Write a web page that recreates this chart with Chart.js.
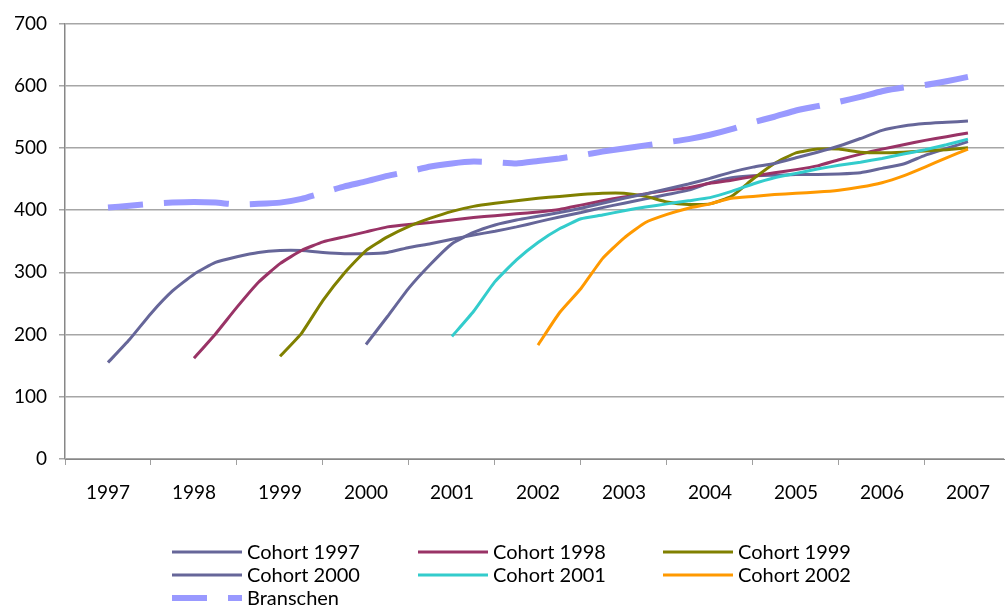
<!DOCTYPE html>
<html>
<head>
<meta charset="utf-8">
<title>Cohorts vs Branschen</title>
<script src="https://cdn.jsdelivr.net/npm/chart.js@4.4.1/dist/chart.umd.min.js"></script>
<style>
  html, body { margin: 0; padding: 0; background: #ffffff; overflow: hidden; }
  canvas { display: block; }
</style>
</head>
<body>
<canvas id="chart" width="1006" height="608"></canvas>
<script>
// Quarterly sampling points, 1997 Q1 .. 2007 Q1
const quarters = [
  1997.00, 1997.25, 1997.50, 1997.75,
  1998.00, 1998.25, 1998.50, 1998.75,
  1999.00, 1999.25, 1999.50, 1999.75,
  2000.00, 2000.25, 2000.50, 2000.75,
  2001.00, 2001.25, 2001.50, 2001.75,
  2002.00, 2002.25, 2002.50, 2002.75,
  2003.00, 2003.25, 2003.50, 2003.75,
  2004.00, 2004.25, 2004.50, 2004.75,
  2005.00, 2005.25, 2005.50, 2005.75,
  2006.00, 2006.25, 2006.50, 2006.75,
  2007.00
];

// Year tick labels
const yearTicks = [1997, 1998, 1999, 2000, 2001, 2002, 2003, 2004, 2005, 2006, 2007];

// Series values (null = cohort not yet started)
const cohort1997 = [155,192,234,270,297,316,325,332,335,335,332,330,330,332,340,346,353,360,366,373,381,389,396,404,411,418,425,432,444,452,455,456,457,457,458,460,467,474,488,499,510];
const cohort1998 = [null,null,null,null,162,201,244,284,314,335,349,357,365,373,377,380,384,388,391,394,397,401,408,415,421,426,432,436,443,448,454,460,465,471,481,490,498,505,512,518,524];
const cohort1999 = [null,null,null,null,null,null,null,null,165,202,255,299,335,357,374,387,398,406,411,415,419,422,425,427,427,422,413,409,410,422,450,475,492,498,498,493,492,493,495,497,500];
const cohort2000 = [null,null,null,null,null,null,null,null,null,null,null,null,184,229,275,313,346,364,376,384,390,396,403,411,419,426,434,442,451,461,469,475,484,493,503,515,528,535,539,541,543];
const cohort2001 = [null,null,null,null,null,null,null,null,null,null,null,null,null,null,null,null,197,237,285,320,348,370,386,392,399,405,410,415,420,430,442,452,459,466,472,477,483,490,497,505,514];
const cohort2002 = [null,null,null,null,null,null,null,null,null,null,null,null,null,null,null,null,null,null,null,null,183,235,274,322,355,380,393,403,410,419,422,425,427,429,432,437,444,455,469,484,498];
const branschen  = [404,407,410,412,413,412,409,410,412,418,428,438,446,455,462,470,475,478,477,475,479,483,488,494,499,504,509,514,521,530,541,550,560,567,574,582,591,597,601,607,614];

const seriesNames = ['Cohort 1997', 'Cohort 1998', 'Cohort 1999', 'Cohort 2000', 'Cohort 2001', 'Cohort 2002', 'Branschen'];
const seriesValues = [cohort1997, cohort1998, cohort1999, cohort2000, cohort2001, cohort2002, branschen];
const seriesColors = ['#666699', '#993366', '#808000', '#666699', '#33CCCC', '#FF9900', '#9999FF'];

const toPoints = vals => quarters.map((q, i) => ({ x: q, y: vals[i] })).filter(p => p.y !== null);

const datasets = seriesNames.map((name, i) => {
  const isBranch = name === 'Branschen';
  return {
    label: name,
    data: toPoints(seriesValues[i]),
    borderColor: seriesColors[i],
    backgroundColor: seriesColors[i],
    borderWidth: isBranch ? 6 : 3,
    borderDash: isBranch ? [65, 21] : [],
    borderDashOffset: isBranch ? 30 : 0,
    borderCapStyle: 'butt',
    borderJoinStyle: 'round',
    pointRadius: 0,
    tension: 0.15,
    order: -i
  };
});

// Three-column legend under the plot
const columnLegend = {
  id: 'columnLegend',
  afterDraw(chart) {
    const ctx = chart.ctx;
    const colX = [172, 418, 663];
    const rowY = [552, 575, 598];
    const lineLen = 70;
    ctx.save();
    ctx.font = '20px Lato';
    ctx.textBaseline = 'middle';
    ctx.textAlign = 'left';
    chart.data.datasets.forEach((ds, i) => {
      const x = colX[i % 3];
      const y = rowY[Math.floor(i / 3)];
      ctx.save();
      ctx.strokeStyle = ds.borderColor;
      ctx.lineWidth = ds.borderWidth;
      ctx.lineCap = 'butt';
      ctx.setLineDash(ds.borderDash || []);
      ctx.lineDashOffset = ds.borderDashOffset || 0;
      ctx.beginPath();
      ctx.moveTo(x, y);
      ctx.lineTo(x + lineLen, y);
      ctx.stroke();
      ctx.restore();
      ctx.fillStyle = '#000000';
      ctx.fillText(ds.label, x + lineLen + 5, y + 1);
    });
    ctx.restore();
  }
};

Chart.defaults.font.family = 'Lato';
Chart.defaults.font.size = 19;
Chart.defaults.color = '#000000';

new Chart(document.getElementById('chart'), {
  type: 'line',
  data: { datasets },
  plugins: [columnLegend],
  options: {
    responsive: false,
    animation: false,
    layout: { padding: { top: 19, right: 0, bottom: 89, left: 0 } },
    plugins: {
      legend: { display: false },
      tooltip: { enabled: false }
    },
    scales: {
      x: {
        type: 'linear',
        min: 1996.5,
        max: 2007.42,
        afterBuildTicks: scale => { scale.ticks = yearTicks.map(v => ({ value: v })); },
        afterFit: scale => { scale.height = 60; },
        ticks: {
          callback: v => String(v),
          maxRotation: 0,
          autoSkip: false,
          padding: 16,
          font: { size: 19 }
        },
        grid: {
          offset: true,
          drawOnChartArea: false,
          tickLength: 6,
          color: '#a0a0a0'
        },
        border: { color: '#878787', width: 1 }
      },
      y: {
        min: 0,
        max: 700,
        afterFit: scale => { scale.width = 65; },
        ticks: { stepSize: 100, padding: 12, font: { size: 19 } },
        grid: { color: '#a6a6a6', tickLength: 6, lineWidth: 1.5 },
        border: { color: '#878787', width: 1.5 }
      }
    }
  }
});
</script>
</body>
</html>
